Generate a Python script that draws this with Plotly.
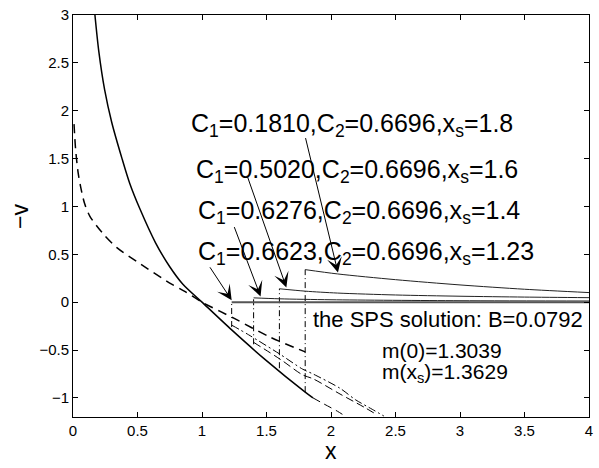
import plotly.graph_objects as go

# ---- data ----
# left branch, solid (xs = 1.8 case)
s_x = [0.17, 0.20, 0.245, 0.30, 0.38, 0.44, 0.52, 0.64, 0.75, 0.85, 1.0, 1.23, 1.49, 1.80, 1.86]
s_y = [3.0, 2.62, 2.22, 1.88, 1.50, 1.24, 0.97, 0.62, 0.37, 0.19, 0.0, -0.29, -0.60, -0.94, -1.00]
# continuation of the solid branch (dashed)
g_x = [1.86, 1.94, 2.05, 2.12]
g_y = [-1.00, -1.06, -1.14, -1.20]
# main dashed branch
d_x = [0.008, 0.02, 0.04, 0.06, 0.09, 0.13, 0.23, 0.34, 0.50, 0.75, 0.87, 1.0, 1.25, 1.52, 1.80]
d_y = [1.86, 1.60, 1.35, 1.20, 1.03, 0.90, 0.72, 0.57, 0.42, 0.20, 0.11, 0.0, -0.17, -0.36, -0.52]
# other dashed left branches
e_x = [1.23, 1.36, 1.60, 1.78, 1.86, 2.07, 2.19, 2.32, 2.41]
e_y = [-0.24, -0.34, -0.54, -0.70, -0.75, -0.90, -1.02, -1.12, -1.19]
f_x = [1.40, 1.61, 1.78, 1.86, 2.07, 2.26, 2.36]
f_y = [-0.42, -0.60, -0.76, -0.80, -0.96, -1.10, -1.18]
# shock positions and jump ends
xs_vals = [1.23, 1.4, 1.6, 1.8]
jump_low = [-0.26, -0.44, -0.69, -0.94]
jump_high = [0.0, 0.045, 0.14, 0.34]
# right branches
r18_x = [1.8, 2.05, 2.5, 3.0, 3.5, 4.0]
r18_y = [0.34, 0.295, 0.235, 0.18, 0.135, 0.10]
r16_x = [1.6, 1.8, 2.05, 2.5, 3.0, 3.5, 4.0]
r16_y = [0.14, 0.115, 0.095, 0.075, 0.062, 0.053, 0.047]
r14_x = [1.4, 1.6, 2.0, 3.0, 4.0]
r14_y = [0.045, 0.035, 0.025, 0.015, 0.012]
r123_x = [1.23, 4.0]
r123_y = [0.0, 0.0]

# labels
labels = [
    "C<sub>1</sub>=0.1810,C<sub>2</sub>=0.6696,x<sub>s</sub>=1.8",
    "C<sub>1</sub>=0.5020,C<sub>2</sub>=0.6696,x<sub>s</sub>=1.6",
    "C<sub>1</sub>=0.6276,C<sub>2</sub>=0.6696,x<sub>s</sub>=1.4",
    "C<sub>1</sub>=0.6623,C<sub>2</sub>=0.6696,x<sub>s</sub>=1.23",
]
labels_x = [0.90, 0.94, 0.95, 0.95]
labels_y = [1.85, 1.367, 0.946, 0.514]
arrow_tail_x = [1.80, 1.346, 1.246, 1.054]
arrow_tail_y = [1.73, 1.336, 0.80, 0.38]
arrow_head_x = [2.054, 1.654, 1.454, 1.23]
arrow_head_y = [0.31, 0.154, 0.06, 0.02]

x_ticks = [0, 0.5, 1, 1.5, 2, 2.5, 3, 3.5, 4]
y_ticks = [-1, -0.5, 0, 0.5, 1, 1.5, 2, 2.5, 3]

FONT = "Liberation Sans, Arial, Helvetica, sans-serif"

fig = go.Figure()

def add_line(x, y, width=1.0, dash="solid", color="black", shape="spline"):
    fig.add_trace(go.Scatter(x=x, y=y, mode="lines", showlegend=False, hoverinfo="skip",
                             line=dict(color=color, width=width, dash=dash,
                                       shape=shape, smoothing=0.8 if shape == "spline" else None)))

add_line(s_x, s_y, width=1.5)
add_line(g_x, g_y, width=1.0, dash="8px,5px")
add_line(d_x, d_y, width=1.5, dash="9px,6px")
add_line(e_x, e_y, width=1.0, dash="8px,3px,2px,3px")
add_line(f_x, f_y, width=1.0, dash="8px,4px")

for xv, lo, hi in zip(xs_vals, jump_low, jump_high):
    add_line([xv, xv], [lo, hi], width=1.0, dash="6px,3px,1px,3px", shape="linear")

add_line(r18_x, r18_y, width=1.0, color="#222")
add_line(r16_x, r16_y, width=1.0, color="#222")
add_line(r14_x, r14_y, width=1.0, color="#222")
add_line(r123_x, r123_y, width=2.0, color="#555", shape="linear")

annotations = []
for txt, lx, ly in zip(labels, labels_x, labels_y):
    annotations.append(dict(x=lx, y=ly, xref="x", yref="y", text=txt, showarrow=False,
                            xanchor="left", yanchor="middle",
                            font=dict(family=FONT, size=25, color="black")))
for tx, ty, hx, hy in zip(arrow_tail_x, arrow_tail_y, arrow_head_x, arrow_head_y):
    annotations.append(dict(x=hx, y=hy, ax=tx, ay=ty, xref="x", yref="y", axref="x", ayref="y",
                            text="", showarrow=True, arrowhead=3, arrowsize=2.5,
                            arrowwidth=1.0, arrowcolor="black", standoff=0))

annotations.append(dict(x=1.846, y=-0.185, xref="x", yref="y", text="the SPS solution: B=0.0792",
                        showarrow=False, xanchor="left", yanchor="middle",
                        font=dict(family=FONT, size=22, color="black")))
annotations.append(dict(x=2.377, y=-0.50, xref="x", yref="y", text="m(0)=1.3039",
                        showarrow=False, xanchor="left", yanchor="middle",
                        font=dict(family=FONT, size=21, color="black")))
annotations.append(dict(x=2.377, y=-0.735, xref="x", yref="y", text="m(x<sub>s</sub>)=1.3629",
                        showarrow=False, xanchor="left", yanchor="middle",
                        font=dict(family=FONT, size=21, color="black")))
annotations.append(dict(x=0.5, y=-0.085, xref="paper", yref="paper", text="x",
                        showarrow=False, xanchor="center", yanchor="middle",
                        font=dict(family=FONT, size=23, color="black")))
annotations.append(dict(x=(20 - 73) / 520, y=(417 - 213) / 409, xref="paper", yref="paper",
                        text="\u2212v", textangle=-90,
                        showarrow=False, xanchor="center", yanchor="middle",
                        font=dict(family=FONT, size=23, color="black")))

axis_common = dict(showline=True, linecolor="black", linewidth=1, mirror="ticks",
                   ticks="inside", ticklen=5, tickcolor="black", showgrid=False,
                   zeroline=False, tickfont=dict(family=FONT, size=15, color="black"),
                   ticklabeloverflow="allow")

fig.update_layout(
    width=599, height=468,
    margin=dict(l=73, r=6, t=8, b=51),
    paper_bgcolor="white", plot_bgcolor="white",
    xaxis=dict(range=[0, 4], tickvals=x_ticks, ticktext=[f"{v:g}" for v in x_ticks], **axis_common),
    yaxis=dict(range=[-1.2, 3.0005], tickvals=y_ticks,
               ticktext=[f"{v:g}".replace("-", "\u2212") for v in y_ticks], **axis_common),
    annotations=annotations,
    showlegend=False,
)

fig.write_html("out.html")
